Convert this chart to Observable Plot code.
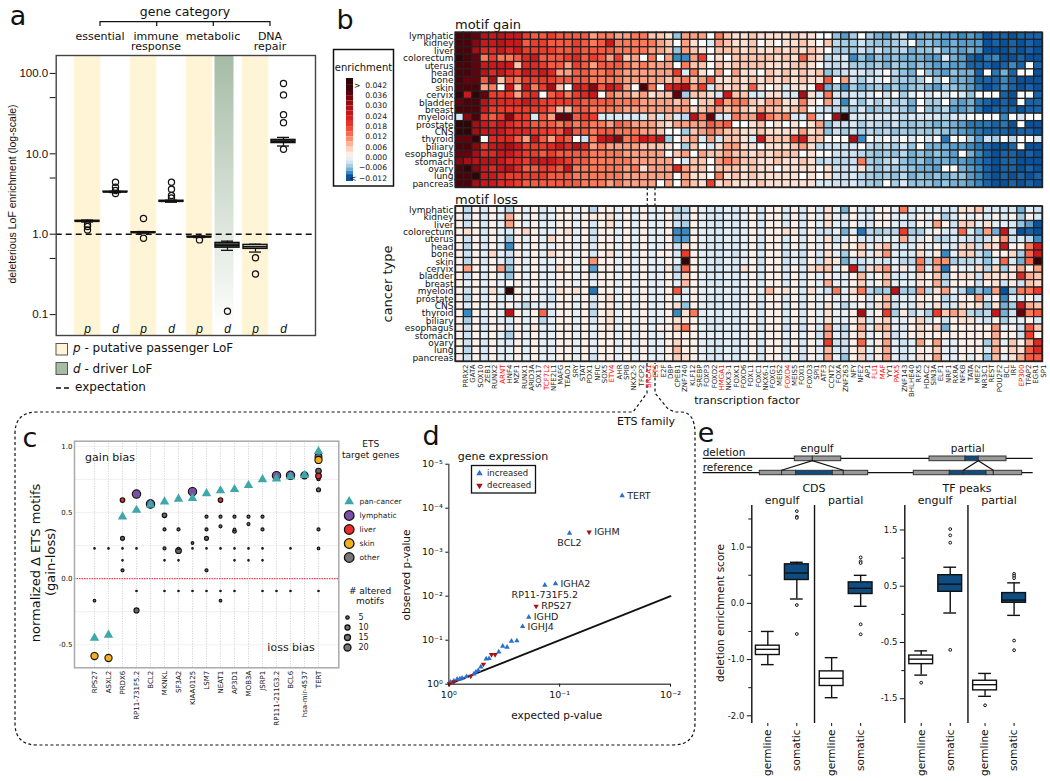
<!DOCTYPE html>
<html><head><meta charset="utf-8">
<script src="https://cdn.jsdelivr.net/npm/d3@7"></script>
<script src="https://cdn.jsdelivr.net/npm/@observablehq/plot@0.6"></script>
<style>
html,body{margin:0;padding:0;background:#fff}
#stage{position:relative;width:1050px;height:781px;overflow:hidden;background:#fff;color:#111}
#stage svg{position:absolute;overflow:visible}
</style></head><body><div id="stage"></div>
<script>
// ---------- panel a ----------
const aGroups=["p1","d1","p2","d2","p3","d3","p4","d4"];
const aLetters=["p","d","p","d","p","d","p","d"];
const aLo=[1.42,3.3,1.03,2.5,0.91,0.63,0.6,12.5];
const aQ1=[1.43,3.33,1.04,2.53,0.915,0.68,0.657,13.6];
const aMed=[1.45,3.36,1.05,2.57,0.926,0.73,0.7,14.3];
const aQ3=[1.47,3.39,1.06,2.61,0.935,0.78,0.737,14.9];
const aHi=[1.5,3.42,1.08,2.65,0.95,0.82,0.75,16];
const aOutliers=[["p1",1.32],["p1",1.25],["p1",1.13],["d1",4.43],["d1",3.84],["d1",3.5],["d1",3.2],["p2",1.57],["p2",0.89],["d2",4.43],["d2",3.63],["d2",3.03],["d2",2.83],["p3",0.85],["d3",0.11],["p4",0.51],["p4",0.32],["d4",75],["d4",54],["d4",30.7],["d4",24.4],["d4",11.4]];
const aTicks=[100,50,10,5,1,0.5,0.1];
// ---------- panel b ----------
const cancerTypes=["lymphatic","kidney","liver","colorectum","uterus","head","bone","skin","cervix","bladder","breast","myeloid","prostate","CNS","thyroid","biliary","esophagus","stomach","ovary","lung","pancreas"];
const tfNames=["PRRX2","GATA","SOX10","ZEB1","RUNX2","ARNT","HNF4","MZF1","RUNX1","ARID3A","SOX17","TCF7L2","NFE2L1","MAFG","TEAD1","SRY","STAT","PDX1","NFIC","SOX5","ETV4","AHR","SPIB","NKX2-5","TFCP2","BRCA1","ETS","E2F","DBP","CPEB1","ZNF740","KLF12","SREBP","FOXP3","FOXD2","HMGA1","NKX3-1","FOXK1","FOXD6","FOXL1","FOXC1","NKX6-1","FOXG1","MEIS2","FOXD4","MEIS5","FOXI1","FOXD3","SPI1","ATF3","CCNT2","FOXA","ZNF263","NFY","NFE2","AP1","FLI1","MAF","YY1","PAX5","ZNF143","BHLHE40","RFX5","HDAC2","SIN3A","ELF1","NRF1","RXRA","NFKB","TATA","MEF2","NR3C1","REST","POU2F2","BCL","IRF","EP300","TFAP2","EGR1","SP1"];
const redTFs=["ARNT","TCF7L2","ETV4","BRCA1","ETS","HMGA1","FOXD4","FLI1","MAF","PAX5","EP300"];
// enrichment values in units of 0.001, one list per cancer type
const gainLymphatic=[39,39,36,27,24,27,24,24,18,15,15,18,15,15,15,15,9,12,12,9,9,12,12,6,6,3,-6,9,9,9,0,12,6,3,3,6,3,3,3,3,6,3,3,0,0,-6,-8,-5,0,-5,-7,-8,-5,-3,-8,-7,-7,-7,-8,-8,-9,-8,-9,-12,-11,-11,-12,-11,-11,-11];
const gainKidney=[39,39,33,24,24,27,24,24,15,18,18,15,15,15,18,15,12,15,24,12,12,12,12,12,9,6,0,9,3,0,-2,9,6,3,3,6,0,3,0,3,3,6,3,0,6,-4,-5,-5,-3,-5,-6,-6,-5,-4,0,-7,-6,-7,-8,-7,-8,-8,-8,-12,-11,-12,-11,-12,-11,-12];
const gainLiver=[39,39,30,21,21,24,21,24,18,18,18,18,15,15,18,15,15,15,15,12,12,12,12,9,9,6,-6,9,6,3,0,6,6,6,3,6,3,3,6,3,6,3,6,3,0,-5,-5,-5,-3,-5,-3,-6,-5,-4,-7,-6,-6,-4,-7,-7,-8,-7,-8,-12,-12,-12,-11,-12,-11,-12];
const gainColorectum=[42,39,36,12,18,12,12,15,21,24,15,15,15,18,21,15,18,15,9,18,6,9,0,12,0,9,-9,-9,9,18,0,3,0,6,6,6,6,6,3,6,3,15,6,3,-4,-3,-2,-9,-6,-8,-6,-7,-6,-7,-7,-7,-8,-8,-2,-7,-8,-11,-12,-10,-9,-12,-12,-11,-12,-12];
const gainUterus=[39,39,36,24,24,24,24,6,21,21,18,15,15,9,18,15,9,15,15,15,12,9,12,9,9,9,0,12,6,6,0,6,3,6,6,6,6,3,3,3,6,6,3,0,-3,-4,-2,-5,-5,-6,-5,-7,-5,-6,-7,-6,-7,-8,-7,-8,-8,-11,-11,-11,-12,-11,-9,-11,0,-11];
const gainHead=[39,39,36,27,21,24,21,18,24,21,24,21,9,9,15,15,12,12,15,12,9,9,9,9,9,9,18,-2,12,3,0,9,0,9,3,3,0,6,3,6,3,6,3,6,-6,-4,-3,-2,-2,-4,-2,0,-4,-6,-7,0,-6,-7,-8,-6,-7,-7,-11,0,-10,-7,-11,0,0,-12];
const gainBone=[39,36,36,15,30,6,15,12,18,18,18,18,15,15,15,15,12,12,12,12,9,9,9,9,9,6,9,12,6,9,15,3,3,6,3,6,3,6,3,6,3,6,3,3,15,0,9,-3,-5,-2,-2,0,-5,-5,-6,-5,0,-5,0,-7,-7,-8,-11,-11,-11,-9,-11,-12,-12,-12];
const gainSkin=[39,39,39,9,12,0,24,6,24,12,18,30,6,0,24,21,33,15,24,21,9,0,39,12,0,21,24,30,9,18,-2,6,3,6,3,15,3,0,3,-2,3,3,0,24,-7,-5,-9,-5,-7,-6,-5,-7,-5,-7,-6,-5,-7,-8,-5,-6,-7,-8,-10,-12,-11,-9,-11,-12,-11,-12];
const gainCervix=[42,24,42,36,18,18,18,9,18,21,0,15,18,12,18,21,24,0,12,9,9,6,9,3,6,6,36,-5,6,6,3,-2,24,6,6,-2,-2,3,3,-2,-2,30,3,-2,12,-2,-3,-2,-3,-2,0,-3,0,-5,-1,0,-2,0,-2,0,-2,-6,0,0,0,-11,-12,0,0,-11];
const gainBladder=[36,39,39,27,21,21,21,21,24,21,18,18,18,18,18,15,15,15,15,12,12,12,9,9,9,9,6,9,0,6,6,18,9,12,12,6,3,9,9,3,3,12,3,0,9,-3,-9,-2,-6,-2,-5,-2,-5,-4,-7,0,-5,-5,0,-7,-8,-7,-10,-11,-12,-11,-12,0,-11,-11];
const gainBreast=[39,39,39,24,18,18,18,18,18,18,18,15,6,6,15,15,12,12,12,12,9,9,9,9,9,9,9,9,3,6,9,9,6,9,6,3,9,6,6,3,6,9,0,-2,-3,-4,-5,-5,-2,-6,-5,-5,-3,-5,-7,0,-6,-6,-4,-8,-8,-7,-10,-12,-11,-11,-11,-12,-11,-11];
const gainMyeloid=[-2,33,39,18,15,18,33,18,18,-2,15,9,36,36,15,18,18,-2,-2,-2,-2,-2,-2,6,-2,6,-2,-4,27,12,36,-2,-2,12,9,9,24,12,9,12,-2,-2,12,-2,0,30,42,-2,-2,-2,-2,-2,-2,-4,-2,-2,-2,-2,-4,-2,-2,0,0,0,0,-9,0,-2,0,0];
const gainProstate=[42,42,30,24,21,24,21,18,18,15,15,15,12,15,12,15,12,12,9,15,12,9,9,9,6,3,9,9,9,9,15,12,15,0,0,3,6,0,3,0,3,0,3,9,-6,-3,-3,-2,-5,-3,-4,-5,-3,-5,-6,-5,-6,-7,-6,-7,-8,-10,-10,-10,-11,-10,-12,0,-12,-12];
const gainCNS=[42,42,30,24,24,24,21,21,21,18,18,18,15,24,15,15,12,15,15,12,12,12,9,9,6,0,0,-5,6,9,12,9,6,6,3,3,6,3,3,3,3,9,3,6,-6,-3,-5,-3,-5,-4,-5,-4,-6,-5,-6,-5,-6,-5,-6,-7,-8,-9,-10,-11,-11,-11,-12,-11,-11,-12];
const gainThyroid=[36,36,42,0,21,21,21,15,9,24,15,9,18,15,0,-3,12,24,27,33,12,15,24,21,27,-5,0,6,9,-2,9,-2,6,6,3,-2,24,6,6,6,18,24,6,6,0,0,0,30,-9,0,-2,0,-2,0,-2,0,-2,0,-10,0,0,-5,-8,-3,-5,0,-4,0,0,-2];
const gainBiliary=[39,39,33,18,24,27,30,24,18,18,18,21,24,21,27,21,9,12,9,9,9,9,6,6,6,3,0,-5,6,0,-2,3,9,9,3,3,0,3,3,3,6,9,3,-4,-3,-3,-3,-2,0,-4,-5,-4,-5,-3,-6,0,-7,-7,-7,-8,-8,-9,-10,-11,-12,-12,-11,0,-12,-12];
const gainEsophagus=[36,36,30,21,21,24,24,21,18,18,15,18,15,15,15,15,12,12,12,12,9,9,9,9,9,0,6,9,0,9,6,6,9,6,6,3,6,3,6,6,6,0,3,0,0,-3,-3,-3,-4,-5,-6,-5,-6,-4,-7,-6,-7,-6,-7,-8,0,-7,-9,-11,-12,-11,-11,-12,-11,-12];
const gainStomach=[33,30,27,27,27,24,21,21,18,24,24,24,21,18,15,15,12,12,12,12,12,9,9,9,9,9,0,-2,6,6,0,9,12,9,6,6,3,3,6,3,3,6,3,-4,-3,-4,-4,-3,12,-5,-6,-4,-3,-6,-7,-6,-8,-7,-7,-8,-8,-9,-10,-11,-12,-11,-11,-12,-12,-12];
const gainOvary=[39,42,33,24,21,24,27,21,15,15,18,18,15,24,12,12,12,12,12,12,9,12,3,9,9,9,21,9,6,6,0,6,6,6,3,6,3,3,0,3,3,3,3,0,3,-3,-3,-2,3,-4,-6,-4,-5,-5,-6,-7,-7,-8,0,0,-7,-8,-9,-11,-12,-11,-11,-12,-11,-12];
const gainLung=[39,39,42,24,24,21,18,18,18,18,18,15,15,15,12,12,12,12,12,12,9,9,9,9,9,9,0,9,3,3,0,12,3,6,3,6,3,3,3,3,3,0,3,0,3,-3,-3,-2,-4,-5,-6,-5,-6,-4,-7,-6,-7,-6,-7,-6,-6,-8,-9,-11,-12,-11,-12,-11,-12,-11];
const gainPancreas=[39,39,30,24,24,21,21,18,15,15,15,15,15,15,15,12,12,12,9,12,9,9,9,9,0,9,0,9,6,3,18,3,6,3,3,3,6,3,3,3,3,3,3,-2,-2,-3,-3,-2,-4,-5,-6,0,-5,-2,-6,-6,-6,-7,-6,-7,-7,-8,-9,-11,-12,-12,-11,-12,-11,-12];
const lossLymphatic=[1,-4,1,-2,1,-1,-4,1,-1,1,-2,-1,1,1,-1,1,-4,1,1,-1,1,-1,1,-1,-1,1,-4,-4,1,-1,-2,-2,-1,-2,-1,1,-2,1,1,-2,1,-2,1,-2,3,-1,-7,1,-2,-3,1,1,-1,12,-2,-1,-1,-1,-2,-2,3,3,6,-2,-2,-2,-2,-7,-1,-3];
const lossKidney=[1,-3,1,-2,1,-1,8,1,-1,1,-2,-1,1,1,-1,1,2,1,3,-1,1,-1,1,-1,-1,1,-3,-3,1,-1,-2,-2,-1,-2,-1,1,-2,1,1,-2,1,-2,1,-1,3,-1,-2,1,-1,-2,1,1,-1,-1,-2,1,-1,1,-5,-2,1,-1,1,-2,1,-2,1,-5,1,-2];
const lossLiver=[1,-3,1,-2,1,-1,9,1,-1,1,-1,-1,1,1,-1,1,-2,1,3,-1,1,-1,1,-1,-1,1,-3,-5,1,-1,-2,-2,-1,-2,-1,1,-2,1,1,-2,1,-2,1,-1,3,-1,-2,1,-2,-2,1,1,-1,-2,-3,1,-1,9,1,-3,5,5,-1,3,-1,-1,-2,-6,-8,-12];
const lossColorectum=[1,3,1,-2,1,-1,-2,1,4,1,-1,-1,1,3,-1,1,-3,1,1,-1,1,-1,1,-1,-1,1,-9,-9,1,-1,-2,-2,-1,-2,-1,1,-1,1,1,3,2,-2,1,-3,-3,-1,-7,-1,-10,-4,-5,-4,-4,18,-5,-5,-1,1,-2,-2,14,-2,-6,9,-7,24,-3,-12,-11,-12];
const lossUterus=[1,-3,1,-2,1,-1,-5,1,-1,1,-1,4,1,1,-1,1,-3,1,1,-1,1,-1,1,-1,-1,1,-8,-8,1,-1,-2,-2,-1,-2,-1,1,-2,1,1,-2,1,-2,1,-1,3,-3,-1,1,-2,-2,-2,-1,-1,8,-3,-2,1,-4,-4,-2,-2,-3,-4,-3,2,10,-3,-2,-4,-9];
const lossHead=[1,-4,1,-2,1,-1,-9,1,-1,1,-1,-1,1,1,-1,1,-2,1,1,-1,1,-1,1,-1,-1,1,-3,3,1,-1,-2,-2,-1,-2,-1,1,-2,1,1,-2,1,-2,1,-1,2,-1,2,1,5,-1,3,7,-2,-2,-2,2,-1,1,-2,-2,4,5,-3,5,3,24,1,1,12,24];
const lossBone=[1,-3,1,-1,4,-1,-3,1,-1,1,-1,4,1,1,-1,1,-2,1,3,-1,1,-1,1,-1,1,1,-2,18,1,-1,-2,-2,-1,-3,-1,1,-2,1,1,-3,-1,-3,1,-2,3,-1,-5,1,4,-1,3,10,-1,-2,-2,4,-1,2,-9,-1,5,5,-3,-6,1,1,4,-5,14,24];
const lossSkin=[1,-4,1,-2,1,-1,-4,1,-1,1,-1,-1,1,1,-1,1,10,1,1,-1,1,-1,1,-1,-1,1,-1,42,1,-1,-2,-3,-1,-2,-1,1,-3,1,1,-3,-1,-3,1,-3,4,2,-7,-3,-3,-2,-2,-3,-1,-4,-4,12,-4,10,10,-5,-4,-4,-3,-6,-2,14,-2,-7,14,42];
const lossCervix=[1,9,1,-1,1,9,-6,1,-1,1,-1,-1,3,1,-1,1,-8,1,1,-1,1,-1,1,-1,-1,2,-4,14,1,-1,-2,-2,-1,-2,3,1,-2,1,1,-2,1,-2,3,5,6,-1,1,24,-4,3,6,10,-1,2,-1,10,-1,8,-10,1,-1,-1,3,-4,4,-5,2,8,1,9];
const lossBladder=[1,-3,1,-2,1,-1,-6,1,-1,1,-1,-1,1,1,-1,1,-2,1,1,-1,1,-1,1,-1,-1,1,-3,5,1,-1,-2,-2,-1,-2,-1,1,-2,1,1,-2,1,-2,1,-1,2,-1,-1,1,7,-1,1,6,-2,-2,-1,4,1,6,-5,1,3,3,-3,4,3,3,2,21,8,6];
const lossBreast=[1,-1,1,-1,1,-1,0,1,-1,1,-1,-1,1,1,-1,1,-1,1,1,-1,1,-1,1,-1,-1,1,-1,7,1,-1,-2,-2,-1,-2,-1,1,-2,1,1,-2,1,-2,1,-1,8,-1,-1,1,5,-1,1,7,-1,-1,-1,3,1,8,-4,1,1,1,-3,1,3,-3,2,-3,6,4];
const lossMyeloid=[1,-3,1,-2,3,-1,42,1,-1,1,-1,-1,3,1,3,1,-10,1,1,-1,1,-1,1,-1,-1,1,15,-2,1,-1,-1,-2,-1,-2,-1,1,-1,7,1,3,1,-2,3,-1,-3,12,-1,3,12,-4,-6,-5,27,-5,-5,10,-4,3,9,-1,-4,-9,-6,-8,9,-12,-5,12,12,18];
const lossProstate=[1,-4,1,-2,1,-1,-1,1,-1,1,-1,-3,1,1,-1,1,-2,1,3,-1,1,-1,1,-1,-1,1,-1,-1,1,-1,-2,-2,-1,-2,-1,1,-2,1,1,-2,1,-2,1,-1,1,-1,-1,1,1,-2,1,7,-2,-1,-1,2,1,1,-4,-2,1,1,9,-2,1,-9,-1,-2,1,-2];
const lossCNS=[1,-2,1,-1,1,-1,1,-1,-4,-1,-1,-1,1,1,-1,1,-3,1,2,-1,1,-1,1,-1,-1,1,3,-6,1,-1,-2,-2,-1,-2,-1,1,-2,1,1,-2,1,-2,1,-1,3,-1,-4,-1,1,-2,3,7,-3,-1,-2,3,-1,3,-3,-2,3,1,3,-5,3,-7,-5,24,8,6];
const lossThyroid=[1,-9,1,-2,1,-1,27,1,-1,1,14,-2,1,1,-1,1,-4,1,3,-1,1,-1,1,-1,-1,1,-9,3,12,-1,-1,-2,-1,-2,-1,1,-2,1,1,-2,1,-2,1,-1,3,-1,-1,1,30,-1,1,18,-5,2,-4,-2,-5,18,6,9,6,-4,-5,-4,24,-7,-3,36,12,15];
const lossBiliary=[1,-5,1,-2,1,-1,-2,1,-1,1,-4,-1,1,1,-1,1,-2,1,3,-1,1,-1,1,-1,-1,1,3,2,1,-1,-2,-2,-1,-2,-1,1,-2,1,1,-2,1,-2,1,-1,3,-1,-1,1,5,-2,2,5,-1,-1,1,5,-2,1,-3,1,3,3,-1,-3,1,-5,-1,-1,1,-2];
const lossEsophagus=[1,-3,1,-2,1,1,-2,1,-1,2,-1,-1,1,1,-1,1,-1,1,2,-1,1,-1,1,-1,1,1,6,13,1,-1,-2,-2,-1,-2,-1,1,-2,1,1,-3,1,-3,1,-2,9,-2,-4,1,8,-1,6,7,-1,-2,1,4,1,5,-7,1,1,1,1,1,10,-1,1,-3,15,6];
const lossStomach=[1,-3,1,-1,1,-1,-5,1,-1,1,-1,-1,1,1,-1,1,-1,1,1,-1,1,-1,1,-1,-1,1,1,1,1,-1,-1,-1,-1,-1,-1,1,-1,1,1,-1,1,-1,1,-3,9,-1,-3,1,5,-1,1,5,-3,-1,1,3,1,1,1,1,1,1,1,1,8,1,1,-3,18,1];
const lossOvary=[1,-3,1,-2,1,-1,-2,1,-1,1,-1,-1,1,1,-1,1,-1,1,1,-1,1,-1,1,-1,-1,1,4,1,1,-1,-2,-2,-1,-2,-1,1,-2,1,1,-2,1,-2,1,-1,18,-3,-3,1,14,-1,2,9,-1,-3,-1,9,1,9,-1,-1,1,1,1,-5,7,-1,6,1,9,21];
const lossLung=[1,-4,1,-2,1,-1,-1,1,-1,1,-1,-1,1,1,-1,1,-1,1,1,-1,1,-1,1,-1,-1,1,7,1,1,-1,-2,-2,-1,-2,-1,1,-2,1,1,-2,1,-2,1,-1,7,-2,-3,1,5,-1,2,8,-1,-2,-1,2,1,5,-1,-1,1,1,1,-2,8,1,5,3,15,21];
const lossPancreas=[1,-3,1,-2,1,-1,-1,1,-1,1,-1,-1,1,1,-1,1,-3,1,1,-1,1,-1,1,-1,-1,1,5,3,1,-1,-2,-2,-1,-2,-1,1,-2,1,1,-2,1,-3,1,-1,9,-1,-6,1,5,-2,2,9,-1,-3,-1,3,1,9,-1,-1,1,-1,1,-6,7,-1,3,8,15,15];
const gainRows=[gainLymphatic,gainKidney,gainLiver,gainColorectum,gainUterus,gainHead,gainBone,gainSkin,gainCervix,gainBladder,gainBreast,gainMyeloid,gainProstate,gainCNS,gainThyroid,gainBiliary,gainEsophagus,gainStomach,gainOvary,gainLung,gainPancreas];
const lossRows=[lossLymphatic,lossKidney,lossLiver,lossColorectum,lossUterus,lossHead,lossBone,lossSkin,lossCervix,lossBladder,lossBreast,lossMyeloid,lossProstate,lossCNS,lossThyroid,lossBiliary,lossEsophagus,lossStomach,lossOvary,lossLung,lossPancreas];
const legendTicks=[42,36,30,24,18,12,6,0,-6,-12];
const legendSteps=[46,42,39,36,33,30,27,24,21,18,15,12,9,6,3,0,-2,-4,-6,-8,-10,-14];
// ---------- panel c ----------
const etsGenes=["RPS27","ASXL2","PRDX6","RP11-731F5.2","BCL2","MKNKL","SF3A2","KIAA0125","LSM7","NEAT1","AP3D1","MOB3A","JSRP1","RP111-211G3.2","BCL6","hsa-mir-4537","TERT"];
const panCancer=[-0.449,-0.426,0.469,0.519,0.56,0.582,0.603,0.608,0.645,0.666,0.676,0.706,0.751,0.756,0.772,0.782,0.963];
const lymphaticPts=[["RP11-731F5.2",0.64,30],["BCL2",0.565,30],["KIAA0125",0.658,30],["RP111-211G3.2",0.779,30],["BCL6",0.782,30],["hsa-mir-4537",0.782,22]];
const liverPts=[["PRDX6",0.595,9],["NEAT1",0.595,9],["TERT",0.777,14]];
const skinPts=[["RPS27",-0.585,22],["ASXL2",-0.6,22],["TERT",0.898,22]];
const otherPts=[["RPS27",0.229,1],["ASXL2",0.229,1],["PRDX6",0.229,1],["RP11-731F5.2",0.229,1],["MKNKL",0.229,4],["SF3A2",0.212,14],["SF3A2",0.229,2],["KIAA0125",0.229,1],["LSM7",0.229,1],["NEAT1",0.229,1],["AP3D1",0.229,1],["MOB3A",0.229,1],["JSRP1",0.229,1],["BCL6",0.229,1],["TERT",0.229,3],
["PRDX6",0.139,1],["MKNKL",0.139,1],["SF3A2",0.139,1],["AP3D1",0.139,1],["MOB3A",0.139,1],["JSRP1",0.139,1],["PRDX6",0.063,4],["LSM7",0.063,4],
["RP11-731F5.2",-0.093,1],["MKNKL",-0.093,1],["SF3A2",-0.093,1],["KIAA0125",-0.093,1],["LSM7",-0.093,1],["NEAT1",-0.093,1],["AP3D1",-0.093,1],["JSRP1",-0.093,1],["RP111-211G3.2",-0.093,1],["BCL6",-0.093,1],["TERT",-0.093,1],
["RPS27",-0.166,3],["NEAT1",-0.166,3],["RP11-731F5.2",-0.24,11],["PRDX6",0.305,7],["MKNKL",0.479,9],["MKNKL",0.373,4],["SF3A2",0.373,4],["KIAA0125",0.27,3],["LSM7",0.469,4],["LSM7",0.373,4],["LSM7",0.305,7],["NEAT1",0.469,4],["NEAT1",0.396,4],["AP3D1",0.469,4],["AP3D1",0.373,3],["AP3D1",0.358,6],["MOB3A",0.469,4],["MOB3A",0.413,4],["JSRP1",0.469,4],["JSRP1",0.373,4],["BCL2",0.565,26],["TERT",0.923,20],["TERT",0.814,13],["TERT",0.754,5],["TERT",0.673,7],["TERT",0.373,4]];
// ---------- panel d ----------
const dExpected=[0.0273,0.0815,0.109,0.136,0.19,0.216,0.243,0.272,0.298,0.326,0.354,0.433,0.46,0.514,0.543,0.57,0.594,0.693,0.758,0.795,0.841,0.9,0.966];
const dObservedUp=[5.2e-5,3.7e-4,5.2e-3,5.6e-3,0.03,0.049,0.103,0.105,0.144,0.137,0.184,0.261,0.265,0.404,0.489,0.533,0.582,0.67,0.731,0.757,0.769,0.84,0.9];
const dUpLabels={0:"TERT",1:"BCL2",2:"IGHA2",3:"RP11-731F5.2",4:"IGHD",5:"IGHJ4"};
const dExpectedDown=[0.0542,0.163,0.382,0.412,0.487,0.634,0.9,0.986];
const dObservedDown=[3.5e-4,0.0169,0.212,0.212,0.351,0.658,0.885,0.98];
const dDownLabels={0:"IGHM",1:"RPS27"};
// ---------- panel e ----------
const eSlots=[0,1,2.2,3.2];
const eTickNames=["germline","somatic","germline","somatic"];
const eFills=["#ffffff","#0f4c81","#ffffff","#0f4c81"];
const cdsLo=[-1.09,0.077,-1.678,-0.053],cdsQ1=[-0.919,0.415,-1.47,0.166],cdsMed=[-0.818,0.54,-1.334,0.267],cdsQ3=[-0.753,0.694,-1.21,0.373],cdsHi=[-0.5,0.73,-0.966,0.498];
const cdsOutliers=[[1,1.64],[1,1.54],[1,1.52],[1,-0.03],[1,-0.545],[3,0.818],[3,0.747],[3,0.717],[3,-0.373],[3,-0.551]];
const tfLo=[-1.08,0.024,-1.457,-0.018],tfQ1=[-0.885,0.401,-1.351,0.206],tfMed=[-0.796,0.537,-1.25,0.254],tfQ3=[-0.732,0.696,-1.18,0.378],tfHi=[-0.649,0.838,-1.05,0.56];
const tfOutliers=[[0,-1.215],[1,1.516],[1,1.404],[1,1.274],[1,-0.631],[2,-1.617],[3,0.72],[3,0.684],[3,0.643],[3,-0.466],[3,-0.637]];

// ---------- helpers ----------
const stage=document.getElementById("stage");
const baseStyle={background:"transparent",fontFamily:"'DejaVu Sans',sans-serif",color:"#111",overflow:"visible"};
function place(p,left,top){p.style.position="absolute";p.style.left=left+"px";p.style.top=top+"px";stage.appendChild(p);return p;}
const NS="http://www.w3.org/2000/svg";
const overlay=document.createElementNS(NS,"svg");
overlay.setAttribute("width",1050);overlay.setAttribute("height",781);overlay.style.left="0";overlay.style.top="0";
stage.appendChild(overlay);
function el(name,attrs){const e=document.createElementNS(NS,name);for(const k in attrs)e.setAttribute(k,attrs[k]);overlay.appendChild(e);return e;}
function T(x,y,s,size,o={}){const e=el("text",{x,y,"font-size":size,"font-family":o.font||"'DejaVu Sans',sans-serif","text-anchor":o.anchor||"middle","dominant-baseline":"central",fill:o.fill||"#111"});
 if(o.rot)e.setAttribute("transform",`rotate(${o.rot} ${x} ${y})`);
 if(o.parts){o.parts.forEach(([t,st])=>{const sp=document.createElementNS(NS,"tspan");sp.textContent=t;if(st)sp.setAttribute("font-style",st);e.appendChild(sp);});}else e.textContent=s;return e;}
function P(d,o={}){return el("path",Object.assign({d,fill:"none",stroke:"#111","stroke-width":1.2},o));}
function R(x,y,w,h,fill,o={}){return el("rect",Object.assign({x,y,width:w,height:h,fill,stroke:"#333","stroke-width":1},o));}

// ---------- panel a plot ----------
const aRows=aGroups.map((g,i)=>({g,lo:aLo[i],q1:aQ1[i],med:aMed[i],q3:aQ3[i],hi:aHi[i],letter:aLetters[i],dark:i===5||i===7,white:i===6}));
place(Plot.plot({width:330,height:300,marginLeft:55.7,marginRight:15,marginTop:10,marginBottom:10,style:baseStyle,
 x:{type:"band",domain:aGroups,range:[71.1,298.3],padding:0,axis:null},
 y:{type:"log",domain:[0.055,167]},
 marks:[
  ()=>{const d=d3.create("svg:defs");const g=d.append("linearGradient").attr("id","dgrad").attr("x1",0).attr("x2",0).attr("y1",0).attr("y2",1);g.append("stop").attr("offset","0%").attr("stop-color","#a5bca5");g.append("stop").attr("offset","100%").attr("stop-color","#ffffff");return d.node();},
  Plot.barY(aRows.filter(d=>d.letter==="p"),{x:"g",y1:0.055,y2:167,fill:"#fff5d6",insetLeft:0.7,insetRight:0.7}),
  Plot.barY(aRows.filter(d=>d.g==="d3"),{x:"g",y1:0.065,y2:167,fill:"url(#dgrad)",insetLeft:1.5,insetRight:7.5}),
  Plot.ruleY([1],{stroke:"#111",strokeWidth:1.4,strokeDasharray:"6,4"}),
  Plot.ruleX(aRows,{x:"g",y1:"lo",y2:"hi",stroke:"#111",strokeWidth:1.2}),
  Plot.tickY(aRows,{x:"g",y:"lo",stroke:"#111",strokeWidth:1.3,insetLeft:8,insetRight:8}),
  Plot.tickY(aRows,{x:"g",y:"hi",stroke:"#111",strokeWidth:1.3,insetLeft:8,insetRight:8}),
  Plot.barY(aRows,{x:"g",y1:"q1",y2:"q3",fill:d=>d.dark?"#555":"#fff",stroke:"#111",strokeWidth:1.4,insetLeft:2,insetRight:2}),
  Plot.tickY(aRows,{x:"g",y:"med",stroke:"#111",strokeWidth:1.8,insetLeft:2,insetRight:2}),
  Plot.dot(aOutliers,{x:d=>d[0],y:d=>d[1],r:3.1,stroke:"#111",strokeWidth:1.2,fill:"none"}),
  Plot.text(aRows,{x:"g",text:"letter",frameAnchor:"bottom",dy:-3,fontStyle:"italic",fontSize:12,fontFamily:"'Liberation Sans',sans-serif"}),
  Plot.axisY({ticks:aTicks,tickFormat:d=>d.toFixed(1),label:null,fontSize:11.5,tickSize:6,tickPadding:2,fontFamily:"'Liberation Sans',sans-serif"}),
  Plot.frame({stroke:"#444",strokeWidth:1.4})
 ]}),0,45);

// ---------- panel b plots ----------
const colorScale={type:"linear",domain:[-12,-9,-6,-3,-1,0,1,3,6,12,18,24,30,36,42],range:["#08519c","#3a8ac2","#94c4df","#cfe2f3","#e4eff8","#ffffff","#fff1ea","#fee0d2","#fdc5ae","#fb7a5a","#ef3b2c","#cb181d","#a50f15","#67000d","#2f0508"],clamp:true};
const cols=d3.range(70);
function heat(rows,top){
 const data=[];rows.forEach((r,i)=>r.forEach((v,j)=>data.push({t:cancerTypes[i],c:j,v})));
 place(Plot.plot({width:670,height:162,marginLeft:80,marginRight:3,marginTop:top===28?4:3.7,marginBottom:3,style:baseStyle,
  x:{type:"band",domain:cols,padding:0,round:false,axis:null},
  y:{type:"band",domain:cancerTypes,padding:0,round:false},
  color:colorScale,
  marks:[Plot.cell(data,{x:"c",y:"t",fill:"v",stroke:"#222",strokeWidth:1.2}),
   Plot.axisY({label:null,tickSize:0,tickPadding:2,fontSize:9}),
   Plot.frame({stroke:"#222",strokeWidth:1.4})]}),375,top);
}
heat(gainRows,28);heat(lossRows,202);
place(Plot.plot({width:595,height:38,margin:0,style:baseStyle,
 x:{type:"band",domain:tfNames,range:[4,588.8],padding:0,round:false,axis:null},
 color:{type:"identity"},
 marks:[Plot.text(tfNames,{x:d=>d,frameAnchor:"top",dy:3,rotate:-90,textAnchor:"end",fontSize:7,fill:d=>redTFs.includes(d)?"#ff0000":"#222"})]}),455,361);
// legend colour bar
const stepRows=legendSteps.slice(0,-1).map((v,i)=>({y1:v,y2:legendSteps[i+1],v:(v+legendSteps[i+1])/2}));
place(Plot.plot({width:45,height:107,margin:0,marginTop:2,marginBottom:2,style:baseStyle,
 x:{domain:[0,39],range:[1,40],axis:null},
 y:{domain:[-14,46],axis:null},
 color:colorScale,
 marks:[Plot.rect(stepRows,{x1:0,x2:7,y1:"y1",y2:"y2",fill:"v"}),
  Plot.text(legendTicks,{x:40.5,y:d=>d,textAnchor:"end",fontSize:7.6,text:d=>(d===42?">\u00a0\u00a0":d===-12?"<\u00a0":"")+(d/1000).toFixed(3).replace("-","\u2212")})]}),345,76);

// ---------- panel c plot ----------
const panPts=etsGenes.map((g,i)=>({g,y:panCancer[i]}));
const teal="#3fa7a9";
const cDot=(arr,fill)=>Plot.dot(arr,{x:d=>d[0],y:d=>d[1],r:d=>d[2],fill,stroke:"#111",strokeWidth:1.1});
place(Plot.plot({width:390,height:310,marginLeft:74,marginRight:51.7,marginTop:10.7,marginBottom:72.7,style:baseStyle,
 x:{type:"point",domain:etsGenes,range:[83.3,329]},
 y:{domain:[-0.674,1.04]},
 r:{domain:[0,30],range:[0,4.2]},
 marks:[
  Plot.ruleY([-0.5,-0.25,0.25,0.5,0.75,1],{stroke:"#ececec",strokeWidth:0.8}),
  Plot.ruleX(etsGenes,{x:d=>d,stroke:"#cfcfcf",strokeWidth:1,strokeDasharray:"1,1.5"}),
  Plot.ruleY([0],{stroke:"#ff3b5a",strokeWidth:1.3,strokeDasharray:"1.5,1"}),
  cDot(otherPts,"#666"),cDot(lymphaticPts,"#7b4fa3"),cDot(liverPts,"#ee2a2a"),cDot(skinPts,"#f2b01e"),
  Plot.dot(panPts,{x:"g",y:"y",symbol:"triangle",r:3.5,fill:teal}),
  Plot.axisX({label:null,tickSize:0,tickPadding:3,tickRotate:-90,fontSize:7,stroke:"#666"}),
  Plot.axisY({ticks:[-0.5,0,0.5,1],tickFormat:d=>d.toFixed(1),label:null,tickSize:0,tickPadding:2,fontSize:7}),
  Plot.frame({stroke:"#aaa",strokeWidth:1.5})
 ]}),0,430);
// symbol keys
function key(names,rs,fills,syms,rots,left,top,w,h,yr,xc,size,dx){
 const items=names.map((n,i)=>({n,r:rs[i],fill:fills[i],sym:syms[i],rot:rots[i]}));
 place(Plot.plot({width:w,height:h,margin:0,style:baseStyle,
  x:{domain:[0,1],range:[xc,xc+1],axis:null},
  y:{type:"point",domain:names,range:yr,padding:0,axis:null},
  r:{type:"identity"},color:{type:"identity"},
  marks:[
   Plot.dot(items.filter(d=>d.sym==="triangle"),{x:()=>0,y:"n",r:"r",fill:"fill",symbol:"triangle",rotate:"rot"}),
   Plot.dot(items.filter(d=>d.sym==="circle"),{x:()=>0,y:"n",r:"r",fill:"fill",stroke:"#111",strokeWidth:1.3}),
   Plot.text(items,{x:()=>0,y:"n",text:"n",dx,textAnchor:"start",fontSize:size,fill:"#222"})
  ]}),left,top);
}
const cKeyNames=["pan-cancer","lymphatic","liver","skin","other"];
key(cKeyNames,[3.6,4.8,4.8,4.8,4.8],[teal,"#7b4fa3","#ee2a2a","#f2b01e","#777"],["triangle","circle","circle","circle","circle"],[0,0,0,0,0],338,492,62,75,[8,66],10.7,7.5,10.3);
const motifSizes=["5","10","15","20"];
key(motifSizes,[1.7,2.5,3,3.5],["#777","#777","#777","#777"],["circle","circle","circle","circle"],[0,0,0,0],338,610,40,45,[7,37.7],9,8,11);

// ---------- panel d plot ----------
const upPts=dExpected.map((x,i)=>({x,y:dObservedUp[i],label:dUpLabels[i]}));
const downPts=dExpectedDown.map((x,i)=>({x,y:dObservedDown[i],label:dDownLabels[i]}));
const sup={"0":"\u2070","1":"\u00b9","2":"\u00b2","3":"\u00b3","4":"\u2074","5":"\u2075"};
const powFmt=d=>{const e=Math.round(-Math.log10(d));return e===0?"10\u2070":"10\u207b"+sup[e];};
place(Plot.plot({width:290,height:255,marginLeft:48.3,marginRight:20,marginTop:13.7,marginBottom:21.3,style:baseStyle,
 x:{type:"log",domain:[1,0.01]},
 y:{type:"log",domain:[1,1e-5]},
 marks:[
  Plot.ruleX([1],{stroke:"#555",strokeWidth:1.4}),
  Plot.ruleY([1],{stroke:"#555",strokeWidth:1.4}),
  Plot.line([[1,1],[0.01,0.01]],{stroke:"#111",strokeWidth:1.8}),
  Plot.dot(upPts,{x:"x",y:"y",symbol:"triangle",r:2,fill:"#2a6fc9"}),
  Plot.dot(downPts,{x:"x",y:"y",symbol:"triangle",r:2,fill:"#a31515",rotate:180}),
  Plot.text(upPts.filter(d=>["TERT","IGHA2","IGHD","IGHJ4"].includes(d.label)),{x:"x",y:"y",text:"label",dx:5,textAnchor:"start",fontSize:9.5,fill:"#222"}),
  Plot.text(upPts.filter(d=>d.label==="BCL2"),{x:"x",y:"y",text:"label",dy:9.5,fontSize:9.5,fill:"#222"}),
  Plot.text(upPts.filter(d=>d.label==="RP11-731F5.2"),{x:"x",y:"y",text:"label",dy:9.5,fontSize:9.5,fill:"#222"}),
  Plot.text(downPts.filter(d=>d.label),{x:"x",y:"y",text:"label",dx:5,textAnchor:"start",fontSize:9.5,fill:"#222"}),
  Plot.axisX({ticks:[1,0.1,0.01],tickFormat:powFmt,label:null,tickSize:3,tickPadding:4,fontSize:9.5}),
  Plot.axisY({ticks:[1,1e-1,1e-2,1e-3,1e-4,1e-5],tickFormat:powFmt,label:null,tickSize:3,tickPadding:3,fontSize:9.5})
 ]}),400,450);
key(["increased","decreased"],[2.4,2.4],["#2a6fc9","#a31515"],["triangle","triangle"],[0,180],471,465,70,28,[7.7,20],8,8.5,7.5);

// ---------- panel e plots ----------
function boxPanel(lo,q1,med,q3,hi,outs,o){
 const rows=eSlots.map((s,i)=>({s,lo:lo[i],q1:q1[i],med:med[i],q3:q3[i],hi:hi[i],fill:eFills[i]}));
 place(Plot.plot({width:o.width,height:280,marginLeft:o.ml,marginRight:o.mr,marginTop:5,marginBottom:57,style:baseStyle,
  x:{domain:o.xd},y:{domain:o.yd},color:{type:"identity"},
  marks:[
   Plot.ruleX([o.xd[0],1.61],{stroke:"#111",strokeWidth:1.4}),
   Plot.ruleX(rows,{x:"s",y1:"lo",y2:"hi",stroke:"#111",strokeWidth:1.4}),
   Plot.ruleY(rows,{y:"lo",x1:d=>d.s-0.22,x2:d=>d.s+0.22,stroke:"#111",strokeWidth:1.4}),
   Plot.ruleY(rows,{y:"hi",x1:d=>d.s-0.22,x2:d=>d.s+0.22,stroke:"#111",strokeWidth:1.4}),
   Plot.rect(rows,{x1:d=>d.s-0.41,x2:d=>d.s+0.41,y1:"q1",y2:"q3",fill:"fill",stroke:"#111",strokeWidth:1.4}),
   Plot.ruleY(rows,{y:"med",x1:d=>d.s-0.41,x2:d=>d.s+0.41,stroke:"#111",strokeWidth:1.4}),
   Plot.dot(outs,{x:d=>eSlots[d[0]],y:d=>d[1],r:1.4,stroke:"#111",strokeWidth:1,fill:"#fff"}),
   Plot.axisX({ticks:eSlots,tickFormat:d=>eTickNames[eSlots.indexOf(d)],label:null,tickSize:3,tickPadding:3,tickRotate:-90,fontSize:10.5}),
   Plot.axisY({ticks:o.major,tickFormat:d=>d.toFixed(1),label:null,tickSize:4.5,tickPadding:3,fontSize:8.5}),
   Plot.axisY({ticks:o.minor,tickFormat:()=>"",label:null,tickSize:3})
  ]}),o.left,500);
}
boxPanel(cdsLo,cdsQ1,cdsMed,cdsQ3,cdsHi,cdsOutliers,{left:705,width:170,ml:46.3,mr:1.8,xd:[-0.552,3.65],yd:[-2.137,1.74],major:[-2,-1,0,1],minor:[-1.5,-0.5,0.5,1.5]});
boxPanel(tfLo,tfQ1,tfMed,tfQ3,tfHi,tfOutliers,{left:875,width:173,ml:29.3,mr:8,xd:[-0.5655,4.11],yd:[-1.94,1.935],major:[-1.5,-0.5,0.5,1.5],minor:[-1,0,1]});

// ---------- annotation text and schematic ----------
T(18,15,"a",27);T(345,19,"b",27);T(30,437,"c",27);T(431,435,"d",27);T(706,432,"e",27);
T(185,11,"gene category",12.5);
P("M100 26V21.7H270V26M156.7 21.7V26M213.3 21.7V26");
const sf="'Liberation Sans',sans-serif";
T(100,36,"essential",11);T(156,36,"immune",11);T(156,46,"response",11);T(213,36,"metabolic",11);T(270,36,"DNA",11);T(270,46,"repair",11);
T(12,194,"deleterious LoF enrichment (log-scale)",10.5,{rot:-90,font:sf});
R(56,343.5,11.5,11.5,"#fff5d6",{stroke:"#555"});R(56,362.5,11.5,12,"#a5bca5",{stroke:"#555"});
T(73,348,"",12,{anchor:"start",parts:[["p","italic"],[" - putative passenger LoF",null]]});
T(73,369,"",12,{anchor:"start",parts:[["d","italic"],[" - driver LoF",null]]});
T(75,387,"expectation",12,{anchor:"start"});
P("M56 388H72",{"stroke-dasharray":"5,3","stroke-width":1.4});
T(455,24,"motif gain",13,{anchor:"start"});T(455,199,"motif loss",13,{anchor:"start"});
T(387,284,"cancer type",13,{rot:-90});T(747,400,"transcription factor",11);
R(333.5,49.5,60,136.5,"none",{stroke:"#111","stroke-width":1.5});T(363.5,67,"enrichment",10);
P("M647.3 187V205M655 187V205",{"stroke-dasharray":"3,2.5"});
P("M647 363V393L633 412H37Q15 412 15 434V723Q15 745 37 745H673Q695 745 695 723V434Q695 412 681 412H675L668 409L655 393V363",{"stroke-dasharray":"3,2.5"});
T(646,421,"ETS family",11);
T(35,563,"normalized \u0394 ETS motifs",13,{rot:-90});T(50,562,"(gain-loss)",13,{rot:-90});
T(110,457,"gain bias",11);T(291,647,"loss bias",11);
T(370.7,444,"ETS",9);T(370.7,454.5,"target genes",9);T(370,590.7,"# altered",9);T(370,601,"motifs",9);
T(503,456,"gene expression",11);R(471.5,465.5,64,27.5,"none",{stroke:"#111","stroke-width":1.3});
T(556.7,715,"expected p-value",10.5);T(406,575,"observed p-value",10.5,{rot:-90});
T(702.7,452,"deletion",10.5,{anchor:"start"});T(702.7,466.7,"reference",10.5,{anchor:"start"});
T(817,448,"engulf",10.5);T(967.7,448,"partial",10.5);
P("M702.7 458.3H1032.7M702.7 472.7H1032.7");
const gy="#999",bl="#0f4c81";
R(794.3,456,18,4.7,gy);R(812.3,456,28.4,4.7,gy);
R(759.3,470.3,22.3,4.4,gy);R(781.6,470.3,14,4.4,gy);R(795.6,470.3,36.7,4.4,bl);R(832.3,470.3,11,4.4,gy);R(843.3,470.3,24.4,4.4,gy);
R(929,456,36,4.7,gy);R(965,456,13.3,4.7,bl);R(978.3,456,27.7,4.7,gy);
R(913.3,470.3,36,4.4,gy);R(949.3,470.3,13.4,4.4,bl);R(963.3,470.3,22.7,4.4,bl);R(986,470.3,7.3,4.4,gy);R(993.3,470.3,28.4,4.4,gy);
P("M781.6 470.3L812.3 460.7L843.3 470.3M963.3 470.3L978.3 460.7L993.3 470.3");
T(814,488,"CDS",11);T(967,488,"TF peaks",11);
T(782,500.7,"engulf",11);T(845.7,500.7,"partial",11);T(935,500.7,"engulf",11);T(999,500.7,"partial",11);
T(720,613,"deletion enrichment score",10.5,{rot:-90});
</script></body></html>
